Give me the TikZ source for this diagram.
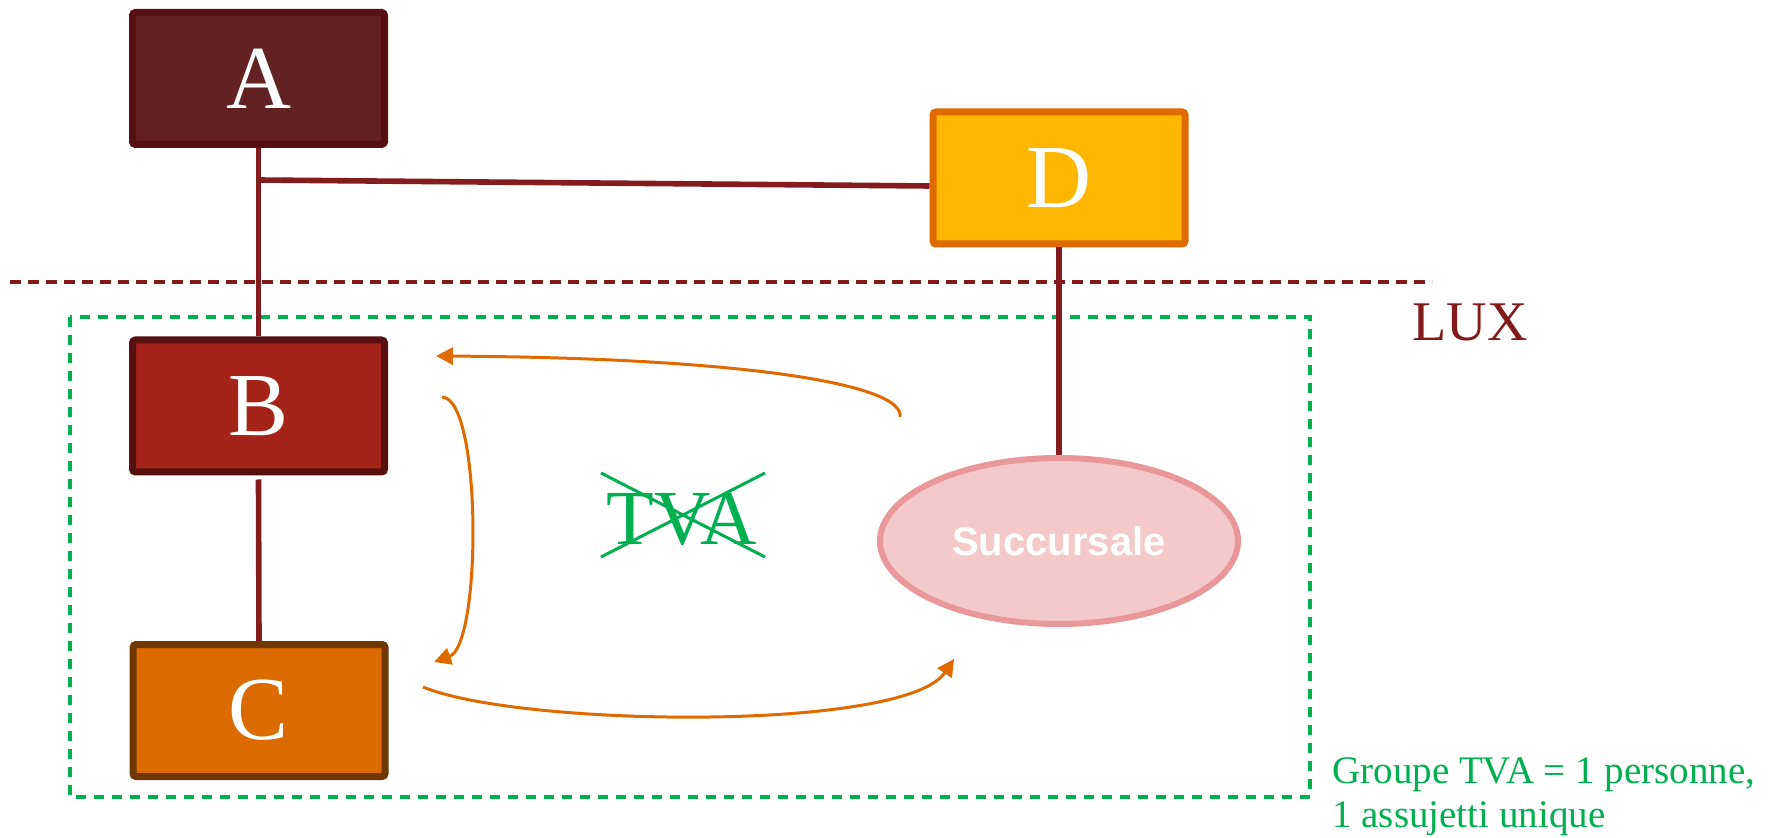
\documentclass[tikz,border=0pt]{standalone}
\usepackage{fontspec}
\setmainfont{Liberation Serif}
\setsansfont{Liberation Sans}
\usetikzlibrary{arrows.meta,shapes.geometric}

\definecolor{aFill}{HTML}{622222}
\definecolor{aLine}{HTML}{560F12}
\definecolor{bFill}{HTML}{A52318}
\definecolor{bLine}{HTML}{56100F}
\definecolor{cFill}{HTML}{DB6A00}
\definecolor{cLine}{HTML}{703800}
\definecolor{dFill}{HTML}{FFB600}
\definecolor{dLine}{HTML}{DE6A00}
\definecolor{linkred}{HTML}{841B1E}
\definecolor{luxred}{HTML}{821A1A}
\definecolor{flowor}{HTML}{DE6A00}
\definecolor{tvagreen}{HTML}{00B050}
\definecolor{sucFill}{HTML}{F4C9CA}
\definecolor{sucLine}{HTML}{E99899}

\begin{document}
\begin{tikzpicture}[x=0.5pt,y=-0.5pt,
    entity/.style={rectangle,rounded corners=1.5pt,line width=3.5pt,
      minimum width=126pt,minimum height=66pt,inner sep=0pt,
      text=white,font=\fontsize{45}{50}\selectfont},
    linkline/.style={draw=linkred,line width=2.8pt},
    flowline/.style={draw=flowor,line width=1.5pt,-{Triangle[length=8.5pt,width=8.5pt]}},
    grpline/.style={draw=tvagreen,line width=1.8pt,dash pattern=on 5pt off 4pt}]
  \useasboundingbox (0,0) rectangle (1786,838);

  % border LUX
  \draw[luxred,line width=1.8pt,dash pattern=on 5.5pt off 3.5pt] (10,282) -- (1432,282);
  \node[anchor=base west,inner sep=0pt,text=luxred,font=\fontsize{28}{30}\selectfont] (lux) at (1412,341) {LUX};

  % groupe TVA
  \draw[grpline] (70,317) rectangle (1310,797);
  \node[anchor=north west,inner sep=0pt,align=left,text=tvagreen,
    font=\fontsize{19.5}{22}\selectfont] (grp) at (1332,757) {Groupe TVA = 1 personne,\\1 assujetti unique};

  % entities
  \node[entity,fill=aFill,draw=aLine] (A) at (258.5,78.5) {A};
  \node[entity,fill=dFill,draw=dLine] (D) at (1059,178) {D};
  \node[entity,fill=bFill,draw=bLine] (B) at (258.5,406) {B};
  \node[entity,fill=cFill,draw=cLine] (C) at (259,710.5) {C};
  \node[ellipse,draw=sucLine,fill=sucFill,line width=3pt,minimum width=179pt,minimum height=83pt,
    inner sep=0pt,text=white,font=\sffamily\bfseries\fontsize{20}{24}\selectfont] (S) at (1059,541) {Succursale};

  % links
  \coordinate (ab) at (258.5,180);
  \draw[linkline] (A.south) -- (B.north);
  \draw[linkline] (ab) -- ([yshift=-4pt]D.west);
  \draw[linkline] ([yshift=-2pt]B.south) -- (C.north);
  \draw[linkline] (D.south) -- (S.north);

  % flows
  \coordinate (s1) at (900,417);
  \coordinate (e1) at (436,356);
  \coordinate (s2) at (442,397);
  \coordinate (e2) at (434,662);
  \coordinate (s3) at (423,687);
  \coordinate (e3) at (954,659);
  \draw[flowline] (s1) .. controls (905,385) and (750,358) .. (e1);
  \draw[flowline] (s2) .. controls (482,398) and (482,645) .. (e2);
  \draw[flowline] (s3) .. controls (520,727) and (905,732) .. (e3);

  % TVA barree
  \node[text=tvagreen,font=\fontsize{39}{40}\selectfont] (tva) at (682,519) {TVA};
  \draw[tvagreen,line width=1.5pt] (601,473) -- (765,557) (601,557) -- (765,473);
\end{tikzpicture}
\end{document}
